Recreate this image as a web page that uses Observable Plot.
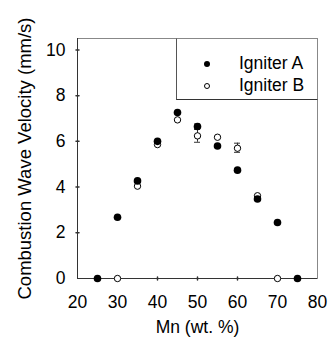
<!DOCTYPE html>
<html>
<head>
<meta charset="utf-8">
<script src="https://cdn.jsdelivr.net/npm/d3@7"></script>
<script src="https://cdn.jsdelivr.net/npm/@observablehq/plot@0.6"></script>
<style>
  html, body { margin: 0; padding: 0; background: #fff; }
  #wrap { position: relative; width: 328px; height: 339px; font-family: "Liberation Sans", Arial, sans-serif; }
  #legend { position: absolute; left: 176px; top: 38px; width: 140px; height: 60px; background: #fff;
            border-left: 1px solid #555; border-bottom: 1px solid #333; border-top: 1px solid #888; border-right: 1px solid #888; }
  .row { position: absolute; left: 0; height: 20px; font-size: 17.5px; color: #000; }
  .sym { position: absolute; left: 27px; top: 7px; width: 6px; height: 6px; border-radius: 50%; box-sizing: border-box; }
  .lab { position: absolute; left: 62px; top: -1px; white-space: nowrap; }
</style>
</head>
<body>
<div id="wrap"></div>
<script>
// ---- data ----
const mnA = [25, 30, 35, 40, 45, 50, 55, 60, 65, 70, 75];
const velA = [0, 2.68, 4.27, 6.0, 7.26, 6.65, 5.8, 4.74, 3.48, 2.45, 0];
const mnB = [30, 35, 40, 45, 50, 55, 60, 65, 70];
const velB = [0, 4.04, 5.86, 6.94, 6.24, 6.18, 5.7, 3.62, 0];
// error bars (x, y, half-width)
const errX = [50, 50, 60];
const errY = [6.65, 6.24, 5.72];
const errE = [0.11, 0.28, 0.2];
const seriesNames = ["Igniter A", "Igniter B"];
const xTickValues = [20, 30, 40, 50, 60, 70, 80];
const yTickValues = [0, 2, 4, 6, 8, 10];
const xDomain = [20, 80];
const yDomain = [0, 10.5];
const xTitle = "Mn (wt. %)";
const yTitle = "Combustion Wave Velocity (mm/s)";

const A = mnA.map((x, i) => ({x, y: velA[i]}));
const B = mnB.map((x, i) => ({x, y: velB[i]}));
const E = errX.map((x, i) => ({x, lo: errY[i] - errE[i], hi: errY[i] + errE[i]}));

const tickShape = { draw(context, l) { context.moveTo(0, 0); context.lineTo(0, -l); } };

const chart = Plot.plot({
  width: 328,
  height: 339,
  marginLeft: 77,
  marginRight: 11,
  marginTop: 38,
  marginBottom: 61,
  style: { fontFamily: "Liberation Sans, Arial, sans-serif", fontSize: "17.5px", color: "#000", background: "#fff" },
  x: { domain: xDomain, ticks: xTickValues, label: null },
  y: { domain: yDomain, ticks: yTickValues, label: null },
  marks: [
    Plot.frame({ stroke: "#888" }),
    Plot.ruleX([xDomain[0]], { stroke: "#333" }),
    Plot.ruleY([yDomain[0]], { stroke: "#333" }),
    Plot.axisX({ ticks: xTickValues, tickSize: 0, tickPadding: 17, tickFormat: d => d, fill: "#000", fontSize: 17.5 }),
    Plot.axisY({ ticks: yTickValues, tickSize: 0, tickPadding: 12, tickFormat: d => d, fill: "#000", fontSize: 17.5 }),
    Plot.vector(xTickValues.slice(1, -1), { x: d => d, frameAnchor: "bottom", length: 3, rotate: 0, shape: tickShape, stroke: "#333" }),
    Plot.vector(yTickValues.slice(1), { y: d => d, frameAnchor: "left", length: 3, rotate: 90, shape: tickShape, stroke: "#333" }),
    Plot.text([yTitle], { frameAnchor: "left", textAnchor: "middle", dx: -52, rotate: -90, fontSize: 18.5, fill: "#000" }),
    Plot.text([xTitle], { frameAnchor: "bottom", textAnchor: "middle", dy: 54, fontSize: 17.5, fill: "#000" }),
    Plot.ruleX(E, { x: "x", y1: "lo", y2: "hi", stroke: "#333" }),
    Plot.ruleY(E, { y: "lo", x1: d => d.x - 0.75, x2: d => d.x + 0.75, stroke: "#333" }),
    Plot.ruleY(E, { y: "hi", x1: d => d.x - 0.75, x2: d => d.x + 0.75, stroke: "#333" }),
    Plot.dot(B, { x: "x", y: "y", r: 3.2, fill: "#fff", stroke: "#000", strokeWidth: 1 }),
    Plot.dot(A, { x: "x", y: "y", r: 3.8, fill: "#000", stroke: "none" })
  ]
});

const wrap = document.getElementById("wrap");
wrap.appendChild(chart);

const legend = document.createElement("div");
legend.id = "legend";
seriesNames.forEach((name, i) => {
  const row = document.createElement("div");
  row.className = "row";
  row.style.top = (15 + i * 22) + "px";
  const sym = document.createElement("span");
  sym.className = "sym";
  if (i === 0) { sym.style.background = "#000"; }
  else { sym.style.background = "#fff"; sym.style.border = "1px solid #000"; }
  const lab = document.createElement("span");
  lab.className = "lab";
  lab.textContent = name;
  row.appendChild(sym);
  row.appendChild(lab);
  legend.appendChild(row);
});
wrap.appendChild(legend);
</script>
</body>
</html>
